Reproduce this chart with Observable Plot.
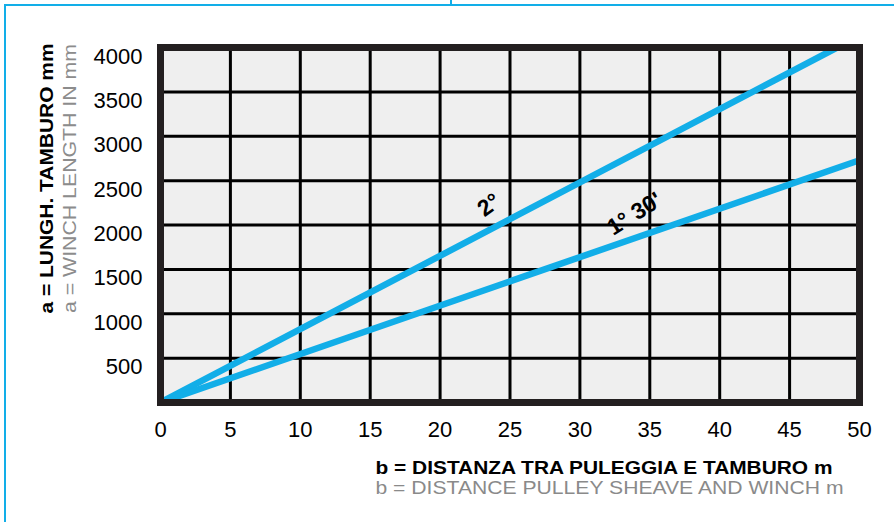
<!DOCTYPE html>
<html><head><meta charset="utf-8">
<script src="https://cdn.jsdelivr.net/npm/d3@7"></script>
<script src="https://cdn.jsdelivr.net/npm/@observablehq/plot@0.6"></script>
<style>
body{margin:0;background:#fff;}
#wrap{position:relative;width:894px;height:522px;overflow:hidden;background:#fff;}
#wrap svg{position:absolute;left:0;top:0;}
.b{position:absolute;background:#12aee8;}
</style></head><body>
<div id="wrap">
<div class="b" style="left:4px;top:4px;width:890px;height:2px"></div>
<div class="b" style="left:4px;top:4px;width:2px;height:518px"></div>
<div class="b" style="left:450px;top:0;width:2px;height:5px"></div>
</div>
<script>
// Tick values
const xTicks = [0, 5, 10, 15, 20, 25, 30, 35, 40, 45, 50];
const yTicks = [500, 1000, 1500, 2000, 2500, 3000, 3500, 4000];

// Series: b = distance (m), a = winch length (mm)
const dist2deg = [0, 48.4];
const len2deg = [0, 4000];
const dist130 = [0, 50];
const len130 = [0, 2730];

// Line labels
const labelText = ["2°", "1° 30'"];
const labelX = [23.5, 33.9];
const labelY = [2225, 2125];
const labelRotate = [-36, -32];

// Axis titles
const yTitleIt = "a = LUNGH. TAMBURO mm";
const yTitleEn = "a = WINCH LENGTH IN mm";
const xTitleIt = "b = DISTANZA TRA PULEGGIA E TAMBURO m";
const xTitleEn = "b = DISTANCE PULLEY SHEAVE AND WINCH m";

const blue = "#12aee8";
const line2 = dist2deg.map((b, i) => ({b, a: len2deg[i]}));
const line130 = dist130.map((b, i) => ({b, a: len130[i]}));
const labels = labelText.map((t, i) => ({t, x: labelX[i], y: labelY[i], r: labelRotate[i]}));

const chart = Plot.plot({
  width: 894, height: 522,
  marginLeft: 160, marginRight: 35, marginTop: 47, marginBottom: 120,
  style: {fontFamily: "'Liberation Sans', Arial, sans-serif", color: "#000", background: "transparent", overflow: "visible"},
  x: {domain: [0, 50]},
  y: {domain: [0, 4000]},
  marks: [
    Plot.frame({fill: "#efefef", stroke: null}),
    Plot.gridX(xTicks.filter(d => d > 0 && d < 50), {stroke: "#000", strokeOpacity: 1, strokeWidth: 3}),
    Plot.gridY(yTicks.filter(d => d < 4000), {stroke: "#000", strokeOpacity: 1, strokeWidth: 3}),
    Plot.line(line2, {x: "b", y: "a", stroke: blue, strokeWidth: 6.5, clip: true}),
    Plot.line(line130, {x: "b", y: "a", stroke: blue, strokeWidth: 6.5, clip: true}),
    Plot.frame({stroke: "#231f20", strokeWidth: 7}),
    Plot.axisX(xTicks, {tickSize: 0, tickPadding: 19, fontSize: 22, label: null, tickFormat: d => String(d)}),
    Plot.axisY(yTicks, {tickSize: 0, tickPadding: 18, fontSize: 22, dy: 9, label: null, tickFormat: d => String(d)}),
    Plot.text(labels, {x: "x", y: "y", text: "t", rotate: "r", fontSize: 23, fontWeight: "bold", fill: "#000"}),
    Plot.text([yTitleIt], {frameAnchor: "left", rotate: -90, textAnchor: "middle", lineAnchor: "bottom", dx: -108, dy: -46.5, fontSize: 18, fontWeight: "bold", fill: "#000"}),
    Plot.text([yTitleEn], {frameAnchor: "left", rotate: -90, textAnchor: "middle", lineAnchor: "bottom", dx: -85, dy: -46.5, fontSize: 18, fill: "#8c8c8c"}),
    Plot.text([xTitleIt], {frameAnchor: "bottom-left", textAnchor: "start", lineAnchor: "bottom", dx: 215, dy: 71, fontSize: 18, fontWeight: "bold", fill: "#000"}),
    Plot.text([xTitleEn], {frameAnchor: "bottom-left", textAnchor: "start", lineAnchor: "bottom", dx: 215, dy: 91, fontSize: 18, fill: "#8a8a8a"})
  ]
});

const lengths = {};
lengths[yTitleIt] = 270; lengths[yTitleEn] = 269;
lengths[xTitleIt] = 457; lengths[xTitleEn] = 468;
d3.select(chart).selectAll("text").each(function() {
  const t = this.textContent;
  if (lengths[t]) {
    this.setAttribute("textLength", lengths[t]);
    this.setAttribute("lengthAdjust", "spacingAndGlyphs");
  }
});
document.getElementById("wrap").appendChild(chart);
</script>
</body></html>
